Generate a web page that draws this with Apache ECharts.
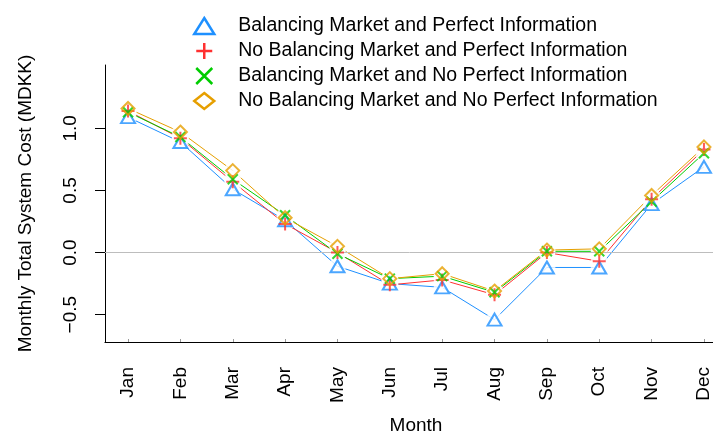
<!DOCTYPE html>
<html><head><meta charset="utf-8">
<script src="https://cdn.jsdelivr.net/npm/echarts@6/dist/echarts.min.js"></script>
<style>html,body{margin:0;padding:0;background:#fff}#c{width:713px;height:432px}</style>
</head><body><div id="c"></div>
<script>
const months = ['Jan','Feb','Mar','Apr','May','Jun','Jul','Aug','Sep','Oct','Nov','Dec'];
const yTicks = [-0.5, 0, 0.5, 1.0];
const seriesNames = [
  'Balancing Market and Perfect Information',
  'No Balancing Market and Perfect Information',
  'Balancing Market and No Perfect Information',
  'No Balancing Market and No Perfect Information'
];
const bmPI     = [1.09, 0.89, 0.51, 0.26, -0.11, -0.25, -0.28, -0.54, -0.12, -0.12, 0.39, 0.69];
const noBmPI   = [1.14, 0.92, 0.57, 0.23,  0.00, -0.26, -0.22, -0.34,  0.00, -0.07, 0.43, 0.83];
const bmNoPI   = [1.13, 0.93, 0.59, 0.30, -0.01, -0.21, -0.19, -0.32,  0.01,  0.01, 0.41, 0.80];
const noBmNoPI = [1.16, 0.97, 0.66, 0.28,  0.05, -0.21, -0.17, -0.31,  0.02,  0.03, 0.46, 0.85];

const allSeries = [bmPI, noBmPI, bmNoPI, noBmNoPI];
const colors = ['#1E90FF', '#FF3030', '#00CD00', '#E69F00'];
const FONT = '"Liberation Sans", Arial, Helvetica, sans-serif';
const PLUS = 'path://M6,0L6,12M0,6L12,6';
const CROSS = 'path://M0,0L12,12M12,0L0,12';
const symbols = ['triangle', PLUS, CROSS, 'diamond'];
const symSizes = [[14, 12], [13, 13], [10, 10], [13, 13]];
const monthIdx = months.map((m, i) => i);

const toXY = arr => arr.map((v, i) => [i, v]);

const series = [];
allSeries.forEach((arr, k) => {
  series.push({
    name: seriesNames[k], type: 'line', data: toXY(arr),
    symbol: 'none', showSymbol: false, silent: true, z: 2,
    lineStyle: { color: colors[k], width: 1 }
  });
});
// gap masks (R type="b" look)
series.push({
  name: 'gap', type: 'scatter', silent: true, z: 4,
  data: [].concat(...allSeries.map(toXY)),
  symbol: 'circle', symbolSize: 17,
  itemStyle: { color: '#ffffff' },
  markLine: {
    silent: true, symbol: 'none', label: { show: false }, z: 5,
    lineStyle: { color: '#bdbdbd', width: 1, type: 'solid' },
    data: [{ yAxis: 0 }]
  }
});
allSeries.forEach((arr, k) => {
  series.push({
    name: seriesNames[k], type: 'scatter', data: toXY(arr), z: 6, silent: true,
    symbol: symbols[k], symbolSize: symSizes[k],
    itemStyle: { color: 'rgba(0,0,0,0)', borderColor: colors[k], borderWidth: 2 }
  });
});

const fmtY = v => (v < 0 ? '\u2212' : '') + Math.abs(v).toFixed(1);

const option = {
  animation: false,
  backgroundColor: '#fff',
  textStyle: { fontFamily: FONT },
  grid: { left: 105, right: -14, top: 65, bottom: 90, outerBoundsMode: 'none', containLabel: false },
  legend: {
    orient: 'vertical', left: 188, top: 11, itemWidth: 20, itemHeight: 16, itemGap: 5,
    selectedMode: false,
    textStyle: { fontFamily: FONT, fontSize: 19.5, color: '#000', lineHeight: 19, padding: [0, 0, 0, 19] },
    data: seriesNames.map((n, i) => ({
      name: n, icon: symbols[i],
      itemStyle: { color: 'rgba(0,0,0,0)', borderColor: colors[i], borderWidth: 2.5 }
    }))
  },
  xAxis: {
    type: 'value', min: -0.44, max: 11.44,
    name: 'Month', nameLocation: 'middle', nameGap: 74,
    nameTextStyle: { fontFamily: FONT, fontSize: 19, color: '#000' },
    axisLine: { show: true, onZero: false, lineStyle: { color: '#000', width: 1.2 } },
    axisTick: { show: true, inside: true, length: 3, customValues: monthIdx, lineStyle: { color: '#999' } },
    axisLabel: {
      customValues: monthIdx, formatter: v => months[Math.round(v)],
      rotate: 90, margin: 25, fontFamily: FONT, fontSize: 19, color: '#000'
    },
    splitLine: { show: false }
  },
  yAxis: {
    type: 'value', min: -0.72, max: 1.51,
    name: 'Monthly Total System Cost (MDKK)', nameLocation: 'middle', nameRotate: 90, nameGap: 70,
    nameTextStyle: { fontFamily: FONT, fontSize: 19, color: '#000' },
    axisLine: { show: true, onZero: false, lineStyle: { color: '#000', width: 1 } },
    axisTick: { show: true, length: 10, customValues: yTicks, lineStyle: { color: '#000' } },
    axisLabel: {
      customValues: yTicks, formatter: fmtY, rotate: 90, margin: 25,
      fontFamily: FONT, fontSize: 19, color: '#000'
    },
    splitLine: { show: false }
  },
  series: series
};

const chart = echarts.init(document.getElementById('c'), null, { renderer: 'canvas' });
chart.setOption(option);
</script>
</body></html>
